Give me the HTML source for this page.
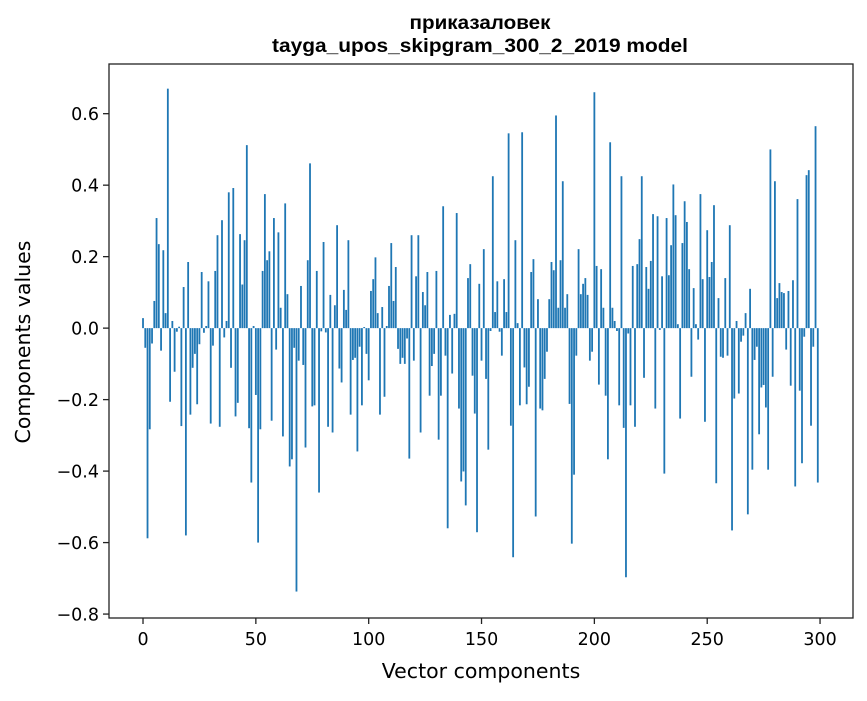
<!DOCTYPE html>
<html><head><meta charset="utf-8"><style>
html,body{margin:0;padding:0;background:#fff;}
svg text{font-family:"DejaVu Sans","Liberation Sans",sans-serif;fill:#000;}
</style></head><body>
<svg id="chart" width="867" height="696" xmlns="http://www.w3.org/2000/svg">
<rect x="0" y="0" width="867" height="696" fill="#fff"/>
<text x="480" y="29" text-anchor="middle" textLength="141" lengthAdjust="spacingAndGlyphs" style="font-family:'Liberation Sans','DejaVu Sans',sans-serif;font-weight:bold;font-size:19px">приказаловек</text>
<text x="480" y="52" text-anchor="middle" textLength="416" lengthAdjust="spacingAndGlyphs" style="font-family:'Liberation Sans','DejaVu Sans',sans-serif;font-weight:bold;font-size:19px">tayga_upos_skipgram_300_2_2019 model</text>
<g id="bars"></g>
<g id="axes"></g>
<text x="481" y="678" text-anchor="middle" font-size="20.5">Vector components</text>
<text transform="translate(30,342) rotate(-90)" text-anchor="middle" font-size="20.5">Components values</text>
</svg>
<script>
const values = [
0.028,-0.055,-0.588,-0.283,-0.043,0.076,0.308,0.235,-0.063,0.218,
0.042,0.67,-0.206,0.02,-0.122,-0.01,0.004,-0.274,0.115,-0.58,
0.185,-0.242,-0.111,-0.072,-0.213,-0.045,0.157,-0.013,0.006,0.131,
-0.267,-0.049,0.16,0.26,-0.276,0.302,-0.026,0.02,0.38,-0.111,
0.392,-0.247,-0.209,0.263,0.122,0.246,0.512,-0.28,-0.432,0.006,
-0.187,-0.6,-0.283,0.16,0.375,0.19,0.215,-0.259,0.308,-0.06,
0.268,0.057,-0.303,0.349,0.095,-0.387,-0.367,-0.055,-0.737,-0.091,
0.118,-0.103,-0.334,0.19,0.461,-0.219,-0.216,0.16,-0.46,-0.009,
0.241,-0.012,-0.276,0.093,-0.292,0.064,0.288,-0.113,-0.152,0.107,
0.051,0.246,-0.242,-0.089,-0.083,-0.345,-0.052,-0.216,0.003,-0.072,
-0.146,0.104,0.137,0.198,0.042,-0.242,0.059,-0.192,0.006,0.118,
0.238,0.076,0.171,-0.058,-0.1,-0.083,-0.1,-0.029,-0.365,0.26,
-0.091,0.145,0.26,-0.292,0.101,0.064,0.157,-0.189,-0.106,-0.072,
0.16,-0.312,-0.189,0.341,-0.077,-0.56,0.037,-0.127,0.04,0.322,
-0.225,-0.429,-0.401,-0.496,0.14,0.179,-0.133,-0.239,-0.571,0.124,
-0.091,0.221,-0.142,-0.34,-0.008,0.425,0.045,0.131,-0.01,-0.077,
0.137,0.045,0.545,-0.273,-0.641,0.246,0.014,-0.216,0.548,-0.11,
-0.213,-0.164,0.157,0.193,-0.527,0.081,-0.225,-0.23,-0.142,-0.066,
0.081,0.185,0.162,0.595,0.057,0.19,0.411,0.057,0.095,-0.212,
-0.603,-0.41,-0.077,0.221,0.095,0.124,0.14,0.093,-0.091,-0.066,
0.66,0.174,-0.158,0.165,0.057,-0.189,-0.367,0.52,0.057,0.02,
-0.008,-0.216,0.425,-0.279,-0.697,-0.015,-0.216,0.174,-0.276,0.179,
0.249,0.425,-0.139,0.171,0.11,0.188,0.319,-0.225,0.313,-0.005,
0.145,-0.407,0.308,0.148,0.232,0.402,0.316,0.011,-0.253,0.238,
0.355,0.297,0.165,-0.136,0.112,0.011,-0.032,0.375,0.137,-0.262,
0.274,0.143,0.185,0.344,-0.434,0.084,-0.08,-0.083,0.14,-0.077,
0.288,-0.566,-0.197,0.02,-0.183,-0.038,-0.021,0.042,-0.521,0.11,
-0.396,-0.089,-0.052,-0.297,-0.166,-0.159,-0.222,-0.396,0.5,-0.136,
0.411,0.084,0.126,0.101,0.098,-0.06,0.104,-0.161,0.134,-0.443,
0.361,-0.175,-0.378,-0.024,0.428,0.442,-0.273,-0.052,0.565,-0.432
];
const xTicks = [0,50,100,150,200,250,300];
const yTicks = [-0.8,-0.6,-0.4,-0.2,0.0,0.2,0.4,0.6];
const yTickLabels = ["\u22120.8","\u22120.6","\u22120.4","\u22120.2","0.0","0.2","0.4","0.6"];

const NS="http://www.w3.org/2000/svg";
const L=109,R=853,T=64,B=618;
const xMin=-15.07,xMax=314.6,yMin=-0.811,yMax=0.739;
const xs=v=>L+(v-xMin)/(xMax-xMin)*(R-L);
const ys=v=>B-(v-yMin)/(yMax-yMin)*(B-T);
function mk(tag,attrs,parent){const e=document.createElementNS(NS,tag);for(const k in attrs)e.setAttribute(k,attrs[k]);parent.appendChild(e);return e;}
const gb=document.getElementById('bars');
values.forEach((v,i)=>{
  const x0=xs(i-0.4),x1=xs(i+0.4);
  const y0=ys(Math.max(v,0)),y1=ys(Math.min(v,0));
  const r=mk('rect',{x:x0,y:y0,width:x1-x0,height:Math.max(y1-y0,0.01),fill:'#1f77b4'},gb);
  
  
});
const ga=document.getElementById('axes');
const frame=mk('rect',{x:L,y:T,width:R-L,height:B-T,fill:'none',stroke:'#222',"stroke-width":1.3},ga);


xTicks.forEach(t=>{
  const x=xs(t);
  const tk=mk('line',{x1:x,x2:x,y1:B,y2:B+6,stroke:'#222',"stroke-width":1.3},ga);
  
  
  const tx=mk('text',{x:x,y:B+27,"text-anchor":"middle","font-size":"17.5"},ga);
  tx.textContent=String(t);
  
  
});
yTicks.forEach((t,i)=>{
  const y=ys(t);
  const tk=mk('line',{x1:L-6,x2:L,y1:y,y2:y,stroke:'#222',"stroke-width":1.3},ga);
  
  
  const tx=mk('text',{x:L-10,y:y+6.5,"text-anchor":"end","font-size":"17.5"},ga);
  tx.textContent=yTickLabels[i];
  
  
});
</script>
</body></html>
